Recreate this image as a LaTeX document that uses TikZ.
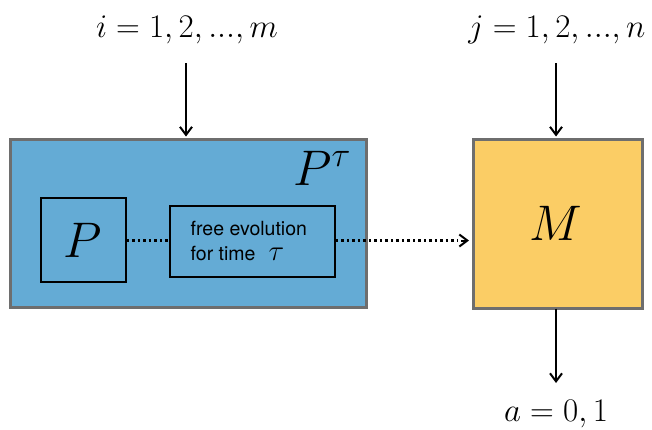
\RequirePackage{fix-cm}
\documentclass[tikz,border=0pt]{standalone}
\usepackage{fontspec}
\newfontfamily\hel{TeX Gyre Heros}
\usetikzlibrary{arrows.meta}
\definecolor{boxblue}{HTML}{64ABD5}
\definecolor{boxyellow}{HTML}{FBCD65}
\definecolor{edgegray}{HTML}{6E6E6E}
\tikzset{
  bigbox/.style={draw=edgegray, line width=2.6pt},
  innerbox/.style={draw=black, line width=1.8pt, inner sep=0pt},
  tip/.style={-{Straight Barb[length=8pt,width=12pt,line width=2pt]}},
  arr/.style={line width=2pt, tip},
  dots/.style={line width=2.3pt, dash pattern=on 2.3pt off 3.2pt},
  lab/.style={inner sep=0pt, font=\fontsize{33}{40}\selectfont},
  big/.style={inner sep=0pt, font=\fontsize{50}{60}\selectfont},
  sftext/.style={anchor=base west, inner sep=0pt, font=\hel\fontsize{19.5}{26}\selectfont}
}
\begin{document}
\begin{tikzpicture}[x=1pt,y=-1pt]
\useasboundingbox (0,0) rectangle (652,429);
% blue box
\node[bigbox, fill=boxblue, minimum width=356pt, minimum height=168pt, anchor=north west, inner sep=0pt] (pt) at (9,138) {};
\node[big, anchor=base] (ptlab) at (322,185) {$P^{\tau}$};
\node[innerbox, minimum width=85pt, minimum height=84pt, anchor=north west] (p) at (40,197) {};
\node[big, anchor=base] (plab) at (82.5,257) {$P$};
\node[innerbox, minimum width=165pt, minimum height=71pt, anchor=north west] (fe) at (169,205) {};
\node[sftext] (fe1) at (190.5,235) {free evolution};
\node[sftext] (fe2) at (190.5,260) {for time\hspace{13pt}{\fontsize{29}{30}\selectfont$\tau$}};
% yellow box
\node[bigbox, fill=boxyellow, minimum width=169pt, minimum height=169pt, anchor=north west, inner sep=0pt] (m) at (472,138) {};
\node[big, anchor=base] (mlab) at (556,240) {$M$};
% labels
\node[lab, anchor=base] (ilab) at (187,37.5) {$i=1,2,...,m$};
\node[lab, anchor=base] (jlab) at (557,37.5) {$j=1,2,...,n$};
\node[lab, anchor=base] (alab) at (556,421) {$a=0,1$};
% arrows
\coordinate (itop) at (186,63);
\coordinate (jtop) at (556,63);
\coordinate (abot) at (556,383);
\draw[arr] (itop) -- (186,136.5);
\draw[arr] (jtop) -- (556,136.5);
\draw[arr] (556,308.5) -- (abot);
% dotted connectors
\draw[dots] (p.east |- 0,240.5) -- (fe.west |- 0,240.5);
\draw[dots] (fe.east |- 0,240.5) -- (457,240.5);
\draw[line width=2pt, tip] (461,240.5) -- (469,240.5);
\end{tikzpicture}
\end{document}
